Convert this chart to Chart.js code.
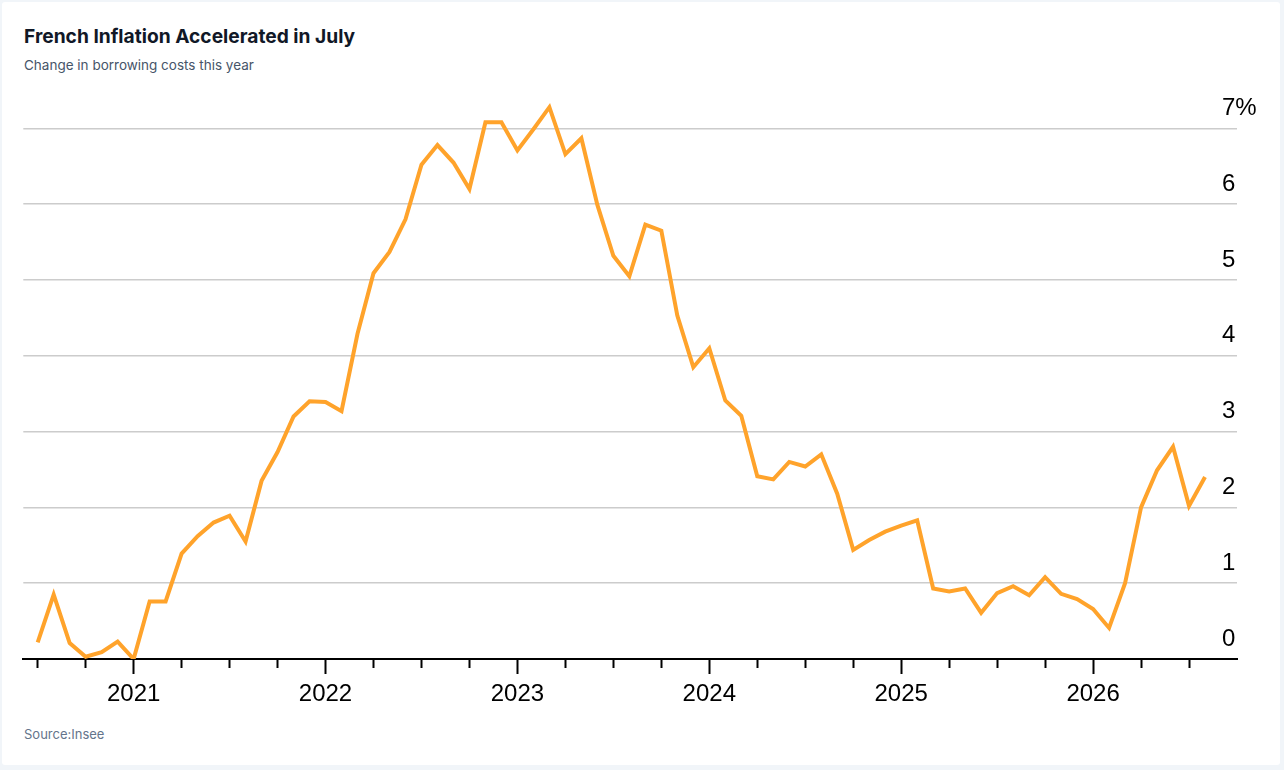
<!DOCTYPE html>
<html>
<head>
<meta charset="utf-8">
<script src="https://cdn.jsdelivr.net/npm/chart.js@4.4.1/dist/chart.umd.min.js"></script>
<style>
  html, body { margin: 0; padding: 0; }
  body { width: 1284px; height: 770px; background: #f1f5f9; position: relative; overflow: hidden; font-family: Inter, "Noto Sans", sans-serif; }
  .card { position: absolute; left: 2px; top: 2px; width: 1278px; height: 763px; background: #fff; border-radius: 3px; }
  .title { position: absolute; left: 24px; top: 26.5px; font-size: 19.2px; line-height: 1; font-weight: 700; color: #111827; white-space: nowrap; }
  .subtitle { position: absolute; left: 24px; top: 58.5px; font-size: 13.5px; line-height: 1; color: #475569; white-space: nowrap; }
  .source { position: absolute; left: 24px; top: 728px; font-size: 13px; line-height: 1; color: #64748b; white-space: nowrap; }
  .chart-box { position: absolute; left: 0; top: 64px; width: 1284px; height: 656px; }
</style>
</head>
<body>
<div class="card"></div>
<div class="title">French Inflation Accelerated in July</div>
<div class="subtitle">Change in borrowing costs this year</div>
<div class="chart-box"><canvas id="inflationChart"></canvas></div>
<div class="source">Source:Insee</div>

<script>
// mois (un point par mois, de juillet 2020 à août 2026)
const months = [
  "2020-07", "2020-08", "2020-09", "2020-10", "2020-11", "2020-12",
  "2021-01", "2021-02", "2021-03", "2021-04", "2021-05", "2021-06",
  "2021-07", "2021-08", "2021-09", "2021-10", "2021-11", "2021-12",
  "2022-01", "2022-02", "2022-03", "2022-04", "2022-05", "2022-06",
  "2022-07", "2022-08", "2022-09", "2022-10", "2022-11", "2022-12",
  "2023-01", "2023-02", "2023-03", "2023-04", "2023-05", "2023-06",
  "2023-07", "2023-08", "2023-09", "2023-10", "2023-11", "2023-12",
  "2024-01", "2024-02", "2024-03", "2024-04", "2024-05", "2024-06",
  "2024-07", "2024-08", "2024-09", "2024-10", "2024-11", "2024-12",
  "2025-01", "2025-02", "2025-03", "2025-04", "2025-05", "2025-06",
  "2025-07", "2025-08", "2025-09", "2025-10", "2025-11", "2025-12",
  "2026-01", "2026-02", "2026-03", "2026-04", "2026-05", "2026-06",
  "2026-07", "2026-08"
];

// inflation en %
const inflation = [
  0.22, 0.85, 0.21, 0.03, 0.09, 0.23,
  0.0, 0.76, 0.76, 1.39, 1.62, 1.80,
  1.89, 1.55, 2.35, 2.73, 3.20, 3.40,
  3.39, 3.27, 4.29, 5.09, 5.37, 5.80,
  6.52, 6.78, 6.55, 6.20, 7.08, 7.08,
  6.71, 6.99, 7.28, 6.66, 6.87, 5.99,
  5.32, 5.05, 5.73, 5.65, 4.53, 3.85,
  4.10, 3.41, 3.21, 2.41, 2.37, 2.60,
  2.54, 2.70, 2.18, 1.44, 1.57, 1.68,
  1.76, 1.83, 0.93, 0.89, 0.93, 0.61,
  0.87, 0.96, 0.84, 1.08, 0.86, 0.79,
  0.66, 0.41, 1.00, 2.00, 2.49, 2.80,
  2.02, 2.40
];

const yTicks = [0, 1, 2, 3, 4, 5, 6, 7];

const isJanuary = (v) => (months[v] || "").endsWith("-01");

new Chart("inflationChart", {
  type: "line",
  data: {
    datasets: [
      {
        data: inflation.map((v, i) => ({ x: i, y: v })),
        borderColor: "#ffa32b",
        borderWidth: 4,
        borderJoinStyle: "miter",
        pointRadius: 0,
        tension: 0,
      },
    ],
  },
  options: {
    responsive: true,
    maintainAspectRatio: false,
    animation: false,
    layout: { padding: { left: 23.3, right: 0, top: 0, bottom: 0 } },
    plugins: {
      legend: false,
      tooltip: { enabled: false },
    },
    scales: {
      x: {
        type: "linear",
        min: -0.9,
        max: 75,
        afterBuildTicks: (scale) => {
          // un trait tous les 3 mois
          scale.ticks = months
            .map((m, i) => i)
            .filter((i) => i % 3 === 0)
            .map((i) => ({ value: i }));
        },
        afterFit: (scale) => {
          scale.height = 61;
        },
        border: { display: true, color: "#000", width: 2 },
        grid: {
          drawOnChartArea: false,
          drawTicks: true,
          tickLength: 15,
          tickWidth: 2,
          tickColor: "#000",
          tickBorderDash: (ctx) => (isJanuary(ctx.tick.value) ? [] : [8, 100]),
        },
        ticks: {
          autoSkip: false,
          maxRotation: 0,
          padding: 6,
          color: "#000",
          font: { family: "'Liberation Sans', Arial, sans-serif", size: 24 },
          callback: (v) => (isJanuary(v) ? months[v].slice(0, 4) : ""),
        },
      },
      y: {
        position: "right",
        min: 0,
        max: 7.4,
        afterBuildTicks: (scale) => {
          scale.ticks = yTicks.map((v) => ({ value: v }));
        },
        afterFit: (scale) => {
          scale.width = 47;
        },
        border: { display: false },
        grid: { color: "#cccccc", lineWidth: 1.5, drawTicks: false },
        ticks: {
          mirror: true,
          padding: 19.7,
          crossAlign: "far",
          labelOffset: -20,
          color: "#000",
          font: { family: "'Liberation Sans', Arial, sans-serif", size: 24 },
          callback: (v) => (v === 7 ? "7%" : String(v)),
        },
      },
    },
  },
});
</script>
</body>
</html>
